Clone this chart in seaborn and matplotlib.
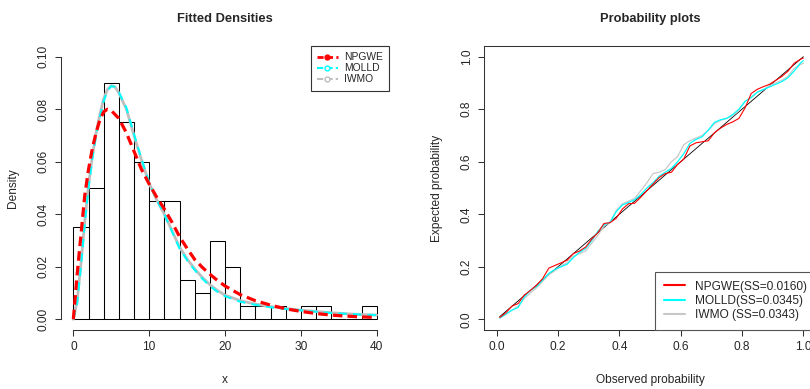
import numpy as np
import pandas as pd
import matplotlib
matplotlib.use("Agg")
import matplotlib.pyplot as plt
import seaborn as sns
from matplotlib.lines import Line2D

# ---------------- data ----------------
bin_edges = [0, 2, 4, 6, 8, 10, 12, 14, 16, 18, 20, 22, 24, 26, 28, 30, 32, 34, 36, 38, 40]
bin_heights = [0.035, 0.05, 0.09, 0.075, 0.06, 0.045, 0.045, 0.015, 0.01, 0.03,
               0.02, 0.005, 0.005, 0.005, 0.0, 0.005, 0.005, 0.0, 0.0, 0.005]

dens_x = [0, 0.5, 1, 1.5, 2, 2.5, 3, 3.5, 4, 4.5, 5, 5.5, 6, 7, 8, 9, 10, 11, 12, 13,
          14, 15, 16, 17, 18, 19, 20, 22, 24, 26, 28, 30, 32, 34, 36, 38, 40]
dens_npgwe = [0.0, 0.017, 0.032, 0.047, 0.057, 0.065, 0.071, 0.076, 0.079, 0.080, 0.0795,
              0.078, 0.0765, 0.071, 0.064, 0.057, 0.0515, 0.0465, 0.042, 0.037, 0.0315,
              0.027, 0.0228, 0.0198, 0.0172, 0.0148, 0.0127, 0.0094, 0.0071, 0.0054,
              0.0040, 0.0030, 0.0022, 0.0016, 0.0012, 0.0009, 0.0007]
dens_molld = [0.0, 0.006, 0.020, 0.036, 0.050, 0.061, 0.070, 0.077, 0.083, 0.087, 0.0888,
              0.0885, 0.0865, 0.0805, 0.0705, 0.061, 0.052, 0.0455, 0.040, 0.0335, 0.027,
              0.0225, 0.0188, 0.0155, 0.0127, 0.0105, 0.0088, 0.0067, 0.0055, 0.0046,
              0.0039, 0.0034, 0.0029, 0.0024, 0.0021, 0.0018, 0.0016]
dens_iwmo = [0.0, 0.007, 0.021, 0.037, 0.051, 0.062, 0.071, 0.078, 0.084, 0.0875, 0.0890,
             0.0885, 0.0862, 0.0800, 0.0700, 0.0605, 0.0518, 0.0455, 0.0400, 0.0338, 0.0275,
             0.0230, 0.0192, 0.0160, 0.0132, 0.0110, 0.0092, 0.0071, 0.0058, 0.0048,
             0.0041, 0.0035, 0.0030, 0.0025, 0.0021, 0.0018, 0.0016]

pp_obs = [0.01, 0.03, 0.05, 0.07, 0.09, 0.11, 0.13, 0.15, 0.17, 0.19, 0.21, 0.23, 0.25,
          0.27, 0.29, 0.31, 0.33, 0.35, 0.37, 0.39, 0.41, 0.43, 0.45, 0.47, 0.49, 0.51,
          0.53, 0.55, 0.57, 0.59, 0.61, 0.63, 0.65, 0.67, 0.69, 0.71, 0.73, 0.75, 0.77,
          0.79, 0.81, 0.83, 0.85, 0.87, 0.89, 0.91, 0.93, 0.95, 0.97, 0.99, 1.0]
pp_npgwe = [0.007, 0.025, 0.050, 0.060, 0.092, 0.110, 0.130, 0.155, 0.195, 0.205, 0.215,
            0.225, 0.250, 0.260, 0.275, 0.305, 0.330, 0.365, 0.368, 0.385, 0.420, 0.440,
            0.442, 0.465, 0.490, 0.515, 0.540, 0.555, 0.560, 0.590, 0.610, 0.660, 0.672,
            0.676, 0.680, 0.710, 0.728, 0.742, 0.752, 0.765, 0.805, 0.860, 0.876, 0.886,
            0.895, 0.910, 0.925, 0.945, 0.975, 0.990, 0.995]
pp_molld = [0.005, 0.020, 0.035, 0.045, 0.085, 0.110, 0.125, 0.150, 0.175, 0.190, 0.200,
            0.210, 0.235, 0.255, 0.270, 0.300, 0.335, 0.360, 0.370, 0.410, 0.435, 0.445,
            0.455, 0.475, 0.500, 0.520, 0.545, 0.560, 0.575, 0.600, 0.630, 0.670, 0.685,
            0.695, 0.720, 0.750, 0.760, 0.765, 0.780, 0.800, 0.830, 0.845, 0.865, 0.875,
            0.885, 0.895, 0.905, 0.920, 0.945, 0.975, 0.985]
pp_iwmo = [0.005, 0.018, 0.035, 0.050, 0.080, 0.100, 0.120, 0.145, 0.170, 0.185, 0.205,
           0.215, 0.240, 0.250, 0.260, 0.290, 0.320, 0.355, 0.370, 0.415, 0.440, 0.450,
           0.460, 0.490, 0.520, 0.555, 0.560, 0.570, 0.600, 0.620, 0.665, 0.680, 0.690,
           0.700, 0.720, 0.745, 0.758, 0.765, 0.775, 0.795, 0.830, 0.845, 0.865, 0.875,
           0.890, 0.900, 0.910, 0.925, 0.955, 0.970, 0.975]
diag = [0.01, 1.0]

dens_labels = ["NPGWE", "MOLLD", "IWMO"]
pp_labels = ["NPGWE(SS=0.0160)", "MOLLD(SS=0.0345)", "IWMO (SS=0.0343)"]
x_ticks = [0, 10, 20, 30, 40]
y_ticks_dens = [0.00, 0.02, 0.04, 0.06, 0.08, 0.10]
pp_ticks = [0.0, 0.2, 0.4, 0.6, 0.8, 1.0]

# ---------------- style ----------------
sns.set_style("white")
plt.rcParams["font.family"] = ["Liberation Sans", "DejaVu Sans"]
FS = 8.6
RED, CYAN, GRAY = "#FF0000", "#00FFFF", "#BEBEBE"

W, H = 810, 389
fig = plt.figure(figsize=(W / 100, H / 100), dpi=100)
ax1 = fig.add_axes([61.2 / W, 1 - 329.8 / H, 327.6 / W, 283.6 / H])
ax2 = fig.add_axes([484.4 / W, 1 - 329.8 / H, 331.2 / W, 283.6 / H])

# ---------------- left: fitted densities ----------------
mids = [(a + b) / 2 for a, b in zip(bin_edges[:-1], bin_edges[1:])]
sns.histplot(x=mids, weights=bin_heights, bins=bin_edges, fill=False,
             color="black", linewidth=0.75, ax=ax1)
sns.lineplot(x=dens_x, y=dens_iwmo, color=GRAY, linewidth=2.0, ax=ax1)
sns.lineplot(x=dens_x, y=dens_molld, color=CYAN, linewidth=1.5,
             linestyle=(0, (4, 3)), ax=ax1)
sns.lineplot(x=dens_x, y=dens_npgwe, color=RED, linewidth=2.3,
             linestyle=(0, (3, 1.6)), ax=ax1)

ax1.set_xlim(-1.6, 41.6)
ax1.set_ylim(-0.004, 0.104)
for s in ["top", "right"]:
    ax1.spines[s].set_visible(False)
ax1.spines["left"].set_bounds(0, 0.1)
ax1.spines["bottom"].set_bounds(0, 40)
ax1.set_xticks(x_ticks)
ax1.set_xticklabels([str(t) for t in x_ticks])
ax1.set_yticks(y_ticks_dens)
ax1.set_yticklabels([f"{t:.2f}" for t in y_ticks_dens], rotation=90, va="center")
ax1.set_xlabel("x", fontsize=FS)
ax1.set_ylabel("Density", fontsize=FS)
ax1.xaxis.set_label_coords(0.5, -0.155)
ax1.yaxis.set_label_coords(-0.128, 0.5)
ax1.set_title("Fitted Densities", fontsize=9.3, fontweight="bold", pad=17.5)

h1 = [Line2D([], [], color=RED, lw=2, ls=(0, (2.2, 1.2)), marker="o", markersize=3.5),
      Line2D([], [], color=CYAN, lw=1.5, ls=(0, (3, 1.5)), marker="o", markersize=3.5,
             markerfacecolor="white"),
      Line2D([], [], color=GRAY, lw=1.5, ls=(0, (3, 1.5)), marker="o", markersize=3.5,
             markerfacecolor="white")]
leg1 = ax1.legend(h1, dens_labels, loc="upper right", bbox_to_anchor=(1.0, 1.0),
                  borderaxespad=0, fontsize=7.4, frameon=True, fancybox=False,
                  edgecolor="#333333", framealpha=1, handlelength=2.0,
                  handletextpad=0.6, labelspacing=0.1, borderpad=0.6)
leg1.get_frame().set_linewidth(0.8)

# ---------------- right: probability plots ----------------
sns.lineplot(x=diag, y=diag, color="black", linewidth=0.6, ax=ax2)
sns.lineplot(x=pp_obs, y=pp_iwmo, color="#C8C8C8", linewidth=0.9, ax=ax2)
sns.lineplot(x=pp_obs, y=pp_molld, color=CYAN, linewidth=0.9, ax=ax2)
sns.lineplot(x=pp_obs, y=pp_npgwe, color=RED, linewidth=0.8, ax=ax2)

ax2.set_xlim(-0.04, 1.04)
ax2.set_ylim(-0.04, 1.04)
ax2.set_xticks(pp_ticks)
ax2.set_xticklabels([f"{t:.1f}" for t in pp_ticks])
ax2.set_yticks(pp_ticks)
ax2.set_yticklabels([f"{t:.1f}" for t in pp_ticks], rotation=90, va="center")
ax2.set_xlabel("Observed probability", fontsize=FS)
ax2.set_ylabel("Expected probability", fontsize=FS)
ax2.xaxis.set_label_coords(0.5, -0.155)
ax2.yaxis.set_label_coords(-0.125, 0.5)
ax2.set_title("Probability plots", fontsize=9.3, fontweight="bold", pad=17.5)
for s in ax2.spines.values():
    s.set_linewidth(0.75)
    s.set_color("#333333")

h2 = [Line2D([], [], color=RED, lw=1.5),
      Line2D([], [], color=CYAN, lw=1.5),
      Line2D([], [], color="#C8C8C8", lw=1.5)]
leg2 = ax2.legend(h2, pp_labels, loc="lower right", bbox_to_anchor=(1.0, 0.0),
                  borderaxespad=0, fontsize=FS, frameon=True, fancybox=False,
                  edgecolor="#555555", framealpha=1, handlelength=1.8,
                  handletextpad=0.85, labelspacing=0.2, borderpad=0.7)
leg2.get_frame().set_linewidth(0.8)

for ax in (ax1, ax2):
    ax.tick_params(axis="both", which="both", direction="out", length=4.3,
                   width=0.75, color="#333333", labelsize=FS, pad=4,
                   bottom=True, left=True, top=False, right=False)
    ax.grid(False)
ax1.spines["left"].set_linewidth(0.75)
ax1.spines["bottom"].set_linewidth(0.75)
ax1.spines["left"].set_color("#333333")
ax1.spines["bottom"].set_color("#333333")

fig.savefig("out.png", dpi=100)
